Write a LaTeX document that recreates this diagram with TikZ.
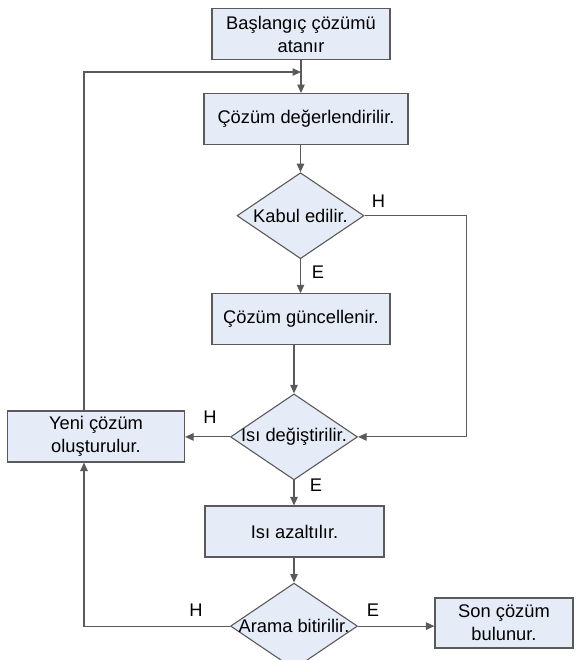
\documentclass[tikz,border=0pt]{standalone}
\usepackage{fontspec}
\setmainfont{Liberation Sans}
\usetikzlibrary{arrows.meta,positioning,shapes.geometric}
\definecolor{boxfill}{HTML}{E6ECF7}
\definecolor{edgegray}{HTML}{5A5A5A}

\begin{document}
\begin{tikzpicture}[
  x=1pt, y=1pt,
  font=\fontsize{18.3}{23}\selectfont,
  box/.style={draw=edgegray, fill=boxfill, line width=1.1pt, align=center,
              minimum height=51pt, minimum width=#1, inner sep=2pt},
  box/.default=178pt,
  decision/.style={diamond, draw=edgegray, fill=boxfill, line width=1.1pt,
                   minimum width=127pt, minimum height=86pt, inner sep=0pt,
                   label={center:#1}},
  arrow/.style={-{Triangle[length=8.5pt,width=7.5pt]}, line width=1.1pt, draw=edgegray},
  yn/.style={inner sep=0pt}
]
\useasboundingbox (0,0) rectangle (578,-660);

\node[box] (start) at (301,-34) {Başlangıç çözümü\\atanır};
\node[box=204pt, below=33pt of start, xshift=5pt] (eval) {Çözüm değerlendirilir.};
\node[decision=Kabul edilir., below=27pt of eval, xshift=-5.5pt] (accept) {};
\node[box, below=34pt of accept, xshift=0.5pt] (update) {Çözüm güncellenir.};
\node[decision=Isı değiştirilir., below=48pt of update, xshift=-7pt] (change) {};
\node[box=179pt, below=25pt of change, xshift=0.5pt] (cool) {Isı azaltılır.};
\node[decision=Arama bitirilir., below=25pt of cool, xshift=-0.5pt] (stop) {};

\node[box=177pt] (newsol) at (96,-436.5) {Yeni çözüm\\oluşturulur.};
\node[box=138pt, minimum height=50pt] (final) at (504,-623) {Son çözüm\\bulunur.};

\coordinate (merge) at ([yshift=-12pt]start.south);

% main column
\draw[arrow] (start) -- (start |- eval.north);
\draw[arrow] (accept.north |- eval.south) -- (accept.north);
\draw[arrow] (accept.south) -- (accept.south |- update.north);
\draw[arrow] (change.north |- update.south) -- (change.north);
\draw[arrow] (change.south) -- (change.south |- cool.north);
\draw[arrow] (stop.north |- cool.south) -- (stop.north);

% branches
\draw[arrow] (accept.east) -- ++(102pt,0) |- (change.east);
\draw[arrow] (change.west) -- (change.west -| newsol.east);
\draw[arrow] (stop.east) -- (stop.east -| final.west);
\draw[arrow] (stop.west) -| ([xshift=-12pt]newsol.south);
\draw[arrow] ([xshift=-12pt]newsol.north) |- (merge);

% yes / no labels
\node[yn] (accH) at ([shift={(14pt,14pt)}]accept.east) {H};
\node[yn] (accE) at ([shift={(17.5pt,-13pt)}]accept.south) {E};
\node[yn] (chgH) at ([shift={(-20pt,20pt)}]change.west) {H};
\node[yn] (chgE) at ([shift={(22pt,-5pt)}]change.south) {E};
\node[yn] (stpH) at ([shift={(-34pt,16pt)}]stop.west) {H};
\node[yn] (stpE) at ([shift={(15pt,16pt)}]stop.east) {E};
\end{tikzpicture}
\end{document}
